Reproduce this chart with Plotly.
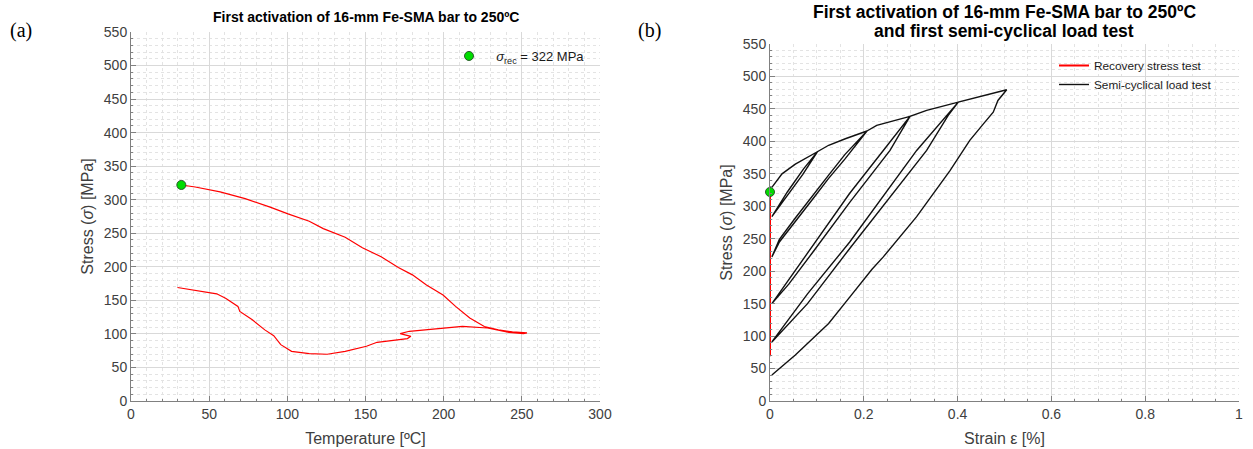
import plotly.graph_objects as go

# ---------------- Panel (a): recovery stress vs temperature ----------------
a_temp = [29.7, 45.6, 54.8, 60.5, 66.2, 68.4, 69.6, 77.6, 85.6, 91.3, 95.8, 102.7,
          114.0, 125.5, 137.0, 150.6, 157.4, 168.8, 176.8, 179.0, 172.2, 178.0,
          189.4, 212.0, 228.0, 241.8, 251.0, 253.3, 244.0, 235.0, 226.0, 216.7,
          207.6, 199.6, 189.0, 180.0, 171.0, 160.0, 148.0, 137.0, 123.0, 114.0,
          100.4, 89.0, 73.0, 57.0, 41.1, 32.2]
a_stress = [169.2, 163.2, 159.8, 153.3, 145.0, 141.0, 133.5, 121.0, 106.0, 97.4, 84.0, 74.0,
            70.7, 69.7, 74.0, 81.6, 87.5, 90.5, 93.0, 96.4, 100.4, 103.9,
            106.3, 111.3, 108.8, 102.4, 100.4, 101.4, 103.0, 106.0, 111.0, 123.6,
            141.0, 158.0, 173.0, 188.0, 199.0, 215.0, 228.5, 244.0, 257.0, 268.0,
            279.0, 289.0, 301.7, 311.6, 319.0, 322.0]
rec_temp = [32.2]
rec_stress = [322]

# ---------------- Panel (b): strain vs stress ----------------
rs_strain = [0.0, 0.0]
rs_stress = [69, 322]

cyc_strain = [0.004, 0.0256, 0.054, 0.0825, 0.101,
              0.07, 0.035, 0.004,
              0.037, 0.072, 0.101,
              0.125, 0.1606, 0.19, 0.2068,
              0.16, 0.125, 0.09, 0.054, 0.02, 0.004,
              0.02, 0.054, 0.09, 0.125, 0.16, 0.2068,
              0.2275, 0.263, 0.2985,
              0.2559, 0.17, 0.09, 0.04, 0.004,
              0.04, 0.09, 0.17, 0.2416, 0.2985,
              0.334, 0.3695, 0.4015,
              0.38, 0.334, 0.17, 0.08, 0.004,
              0.08, 0.17, 0.3127, 0.4015,
              0.4407, 0.476, 0.5047,
              0.486, 0.476, 0.455, 0.426, 0.3838, 0.3127, 0.2416, 0.2175, 0.17, 0.125, 0.054, 0.004]
cyc_stress = [329, 350, 365, 376, 384,
              349, 315, 284,
              322, 358, 384,
              394, 404, 412, 416,
              373, 343, 310, 277, 245, 222,
              249, 282, 316, 348, 380, 416,
              424.6, 432, 438.5,
              386, 306, 228, 180, 150,
              187, 238, 320, 386, 438.5,
              447.7, 455, 460.5,
              440, 386, 235, 150, 91,
              165, 245, 386, 460.5,
              468, 474, 479.5,
              463, 445, 427, 401.5, 355, 284, 222, 203, 160, 119.5, 71, 40]
rec_strain_pt = [0.0]
rec_stress_pt = [322]

FONT = "Liberation Sans, Arial, sans-serif"
TICKC = "#404040"
AXC = "#808080"

fig = go.Figure()

fig.add_trace(go.Scatter(x=a_temp, y=a_stress, mode="lines",
                         line=dict(color="#ff0000", width=1.2),
                         showlegend=False, xaxis="x", yaxis="y"))
fig.add_trace(go.Scatter(x=rec_temp, y=rec_stress, mode="markers",
                         marker=dict(color="#00dd00", size=9, line=dict(color="#2a5a2a", width=1)),
                         name="&nbsp;&nbsp;<i>σ</i><sub>rec</sub> = 322 MPa", legend="legend",
                         xaxis="x", yaxis="y"))

fig.add_trace(go.Scatter(x=rs_strain, y=rs_stress, mode="lines",
                         line=dict(color="#ff0000", width=2),
                         name="Recovery stress test", legend="legend2",
                         xaxis="x2", yaxis="y2"))
fig.add_trace(go.Scatter(x=cyc_strain, y=cyc_stress, mode="lines",
                         line=dict(color="#111111", width=1.4),
                         name="Semi-cyclical load test", legend="legend2",
                         xaxis="x2", yaxis="y2"))
fig.add_trace(go.Scatter(x=rec_strain_pt, y=rec_stress_pt, mode="markers",
                         marker=dict(color="#00dd00", size=9, line=dict(color="#2a5a2a", width=1)),
                         showlegend=False, xaxis="x2", yaxis="y2", cliponaxis=False))

def axis(rng, dtick, minor_dtick, domain, title, anchor, standoff, size=14):
    return dict(range=rng, dtick=dtick, domain=domain, anchor=anchor, automargin=False,
                showline=True, linecolor=AXC, linewidth=1,
                ticks="inside", ticklen=5, tickcolor=AXC,
                showgrid=True, gridcolor="#d9d9d9", gridwidth=1,
                zeroline=False, mirror=False,
                tickfont=dict(family=FONT, size=size, color=TICKC),
                title=dict(text=title, font=dict(family=FONT, size=16, color="#404040"),
                           standoff=standoff),
                minor=dict(dtick=minor_dtick, showgrid=True, gridcolor="#e3e3e3",
                           griddash="dot", ticks="inside", ticklen=2, tickcolor=AXC))

ya0, ya1 = (449 - 401) / 449, (449 - 32) / 449
yb1 = (449 - 44) / 449

fig.update_layout(
    width=1253, height=449,
    margin=dict(l=0, r=0, t=0, b=0),
    paper_bgcolor="white", plot_bgcolor="white",
    font=dict(family=FONT, color="#262626"),
    xaxis=axis([0, 300], 50, 10, [131 / 1253, 600 / 1253], "Temperature [ºC]", "y", 12),
    yaxis=axis([0, 550], 50, 10, [ya0, ya1], "Stress (<i>σ</i>) [MPa]", "x", 6),
    xaxis2=axis([0, 1], 0.2, 0.05, [770 / 1253, 1239 / 1253], "Strain ε [%]", "y2", 12),
    yaxis2=axis([0, 550], 50, 10, [ya0, yb1], "Stress (<i>σ</i>) [MPa]", "x2", 6),
    legend=dict(x=449 / 1253, y=1 - 41 / 449, xanchor="left", yanchor="top",
                bgcolor="rgba(0,0,0,0)", borderwidth=0,
                font=dict(family=FONT, size=13, color="#1a1a1a")),
    legend2=dict(x=1054 / 1253, y=1 - 51 / 449, xanchor="left", yanchor="top",
                 bgcolor="rgba(0,0,0,0)", borderwidth=0, tracegroupgap=0,
                 font=dict(family=FONT, size=11.8, color="#1a1a1a")),
    annotations=[
        dict(text="<b>First activation of 16-mm Fe-SMA bar to 250ºC</b>",
             x=365.5 / 1253, y=1 - 17 / 449, xref="paper", yref="paper",
             xanchor="center", yanchor="middle",
             showarrow=False, font=dict(family=FONT, size=14, color="#000000")),
        dict(text="<b>First activation of 16-mm Fe-SMA bar to 250ºC</b>",
             x=1004 / 1253, y=1 - 12 / 449, xref="paper", yref="paper",
             xanchor="center", yanchor="middle",
             showarrow=False, font=dict(family=FONT, size=17.5, color="#000000")),
        dict(text="<b>and first semi-cyclical load test</b>",
             x=1004 / 1253, y=1 - 31 / 449, xref="paper", yref="paper",
             xanchor="center", yanchor="middle",
             showarrow=False, font=dict(family=FONT, size=17.5, color="#000000")),
        dict(text="(a)", x=21 / 1253, y=1 - 30 / 449, xref="paper", yref="paper",
             xanchor="center", yanchor="middle",
             showarrow=False, font=dict(family="Liberation Serif, Times New Roman, serif", size=20, color="#000000")),
        dict(text="(b)", x=650 / 1253, y=1 - 30 / 449, xref="paper", yref="paper",
             xanchor="center", yanchor="middle",
             showarrow=False, font=dict(family="Liberation Serif, Times New Roman, serif", size=20, color="#000000")),
    ],
)

fig.write_html("out.html")
